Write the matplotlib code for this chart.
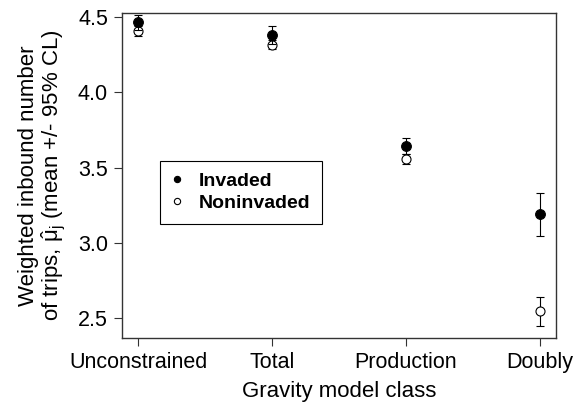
import matplotlib
matplotlib.use("Agg")
import matplotlib.pyplot as plt
from matplotlib.lines import Line2D
import numpy as np

plt.rcParams["font.family"] = ["Liberation Sans", "DejaVu Sans"]
plt.rcParams["mathtext.fontset"] = "custom"
plt.rcParams["mathtext.rm"] = "Liberation Sans"
plt.rcParams["mathtext.it"] = "Liberation Sans:italic"

classes = ["Unconstrained", "Total", "Production", "Doubly"]
invaded_mean = [4.467, 4.384, 3.643, 3.19]
invaded_ci = [0.05, 0.06, 0.052, 0.142]
noninv_mean = [4.407, 4.316, 3.558, 2.545]
noninv_ci = [0.035, 0.03, 0.033, 0.097]

x = np.arange(1, len(classes) + 1)

fig = plt.figure(figsize=(5.87, 4.09), dpi=100)
ax = fig.add_axes([0.2078, 0.1736, 0.947 - 0.2078, 0.968 - 0.1736])

ax.errorbar(x, noninv_mean, yerr=noninv_ci, fmt="o", color="black",
            mfc="white", mec="black", ms=6.5, mew=0.8, elinewidth=0.8,
            capsize=3, capthick=0.8, zorder=3)
ax.errorbar(x, invaded_mean, yerr=invaded_ci, fmt="o", color="black",
            mfc="black", mec="black", ms=7, mew=0.8, elinewidth=0.8,
            capsize=3, capthick=0.8, zorder=4)

ax.set_xlim(0.88, 4.12)
ax.set_ylim(2.367, 4.527)
ax.set_xticks(x)
ax.set_xticklabels(classes)
ax.set_yticks([2.5, 3.0, 3.5, 4.0, 4.5])
ax.set_yticklabels(["2.5", "3.0", "3.5", "4.0", "4.5"])
ax.tick_params(direction="out", length=6, width=0.8, labelsize=15.5,
               color="#333333", pad=4)

for s in ax.spines.values():
    s.set_linewidth(1.0)
    s.set_color("#333333")

ax.set_xlabel("Gravity model class", fontsize=16, labelpad=6)
ax.set_ylabel("Weighted inbound number\n"
              "of trips, $\\mathrm{\\hat{\\mu}_j}$ (mean +/- 95% CL)",
              fontsize=16, labelpad=8, linespacing=1.0)

handles = [
    Line2D([], [], ls="none", marker="o", ms=4.5, mfc="black", mec="black",
           mew=0.8),
    Line2D([], [], ls="none", marker="o", ms=4.5, mfc="white", mec="black",
           mew=0.8),
]
leg = ax.legend(handles, ["Invaded", "Noninvaded"], loc="upper left",
                bbox_to_anchor=(0.0876, 0.545), borderaxespad=0,
                fancybox=False, edgecolor="black", framealpha=1,
                prop={"weight": "bold", "size": 14},
                handlelength=0.6, handletextpad=0.8, labelspacing=0.22,
                borderpad=0.6)
leg.get_frame().set_linewidth(0.8)

fig.savefig("out.png", dpi=100)
